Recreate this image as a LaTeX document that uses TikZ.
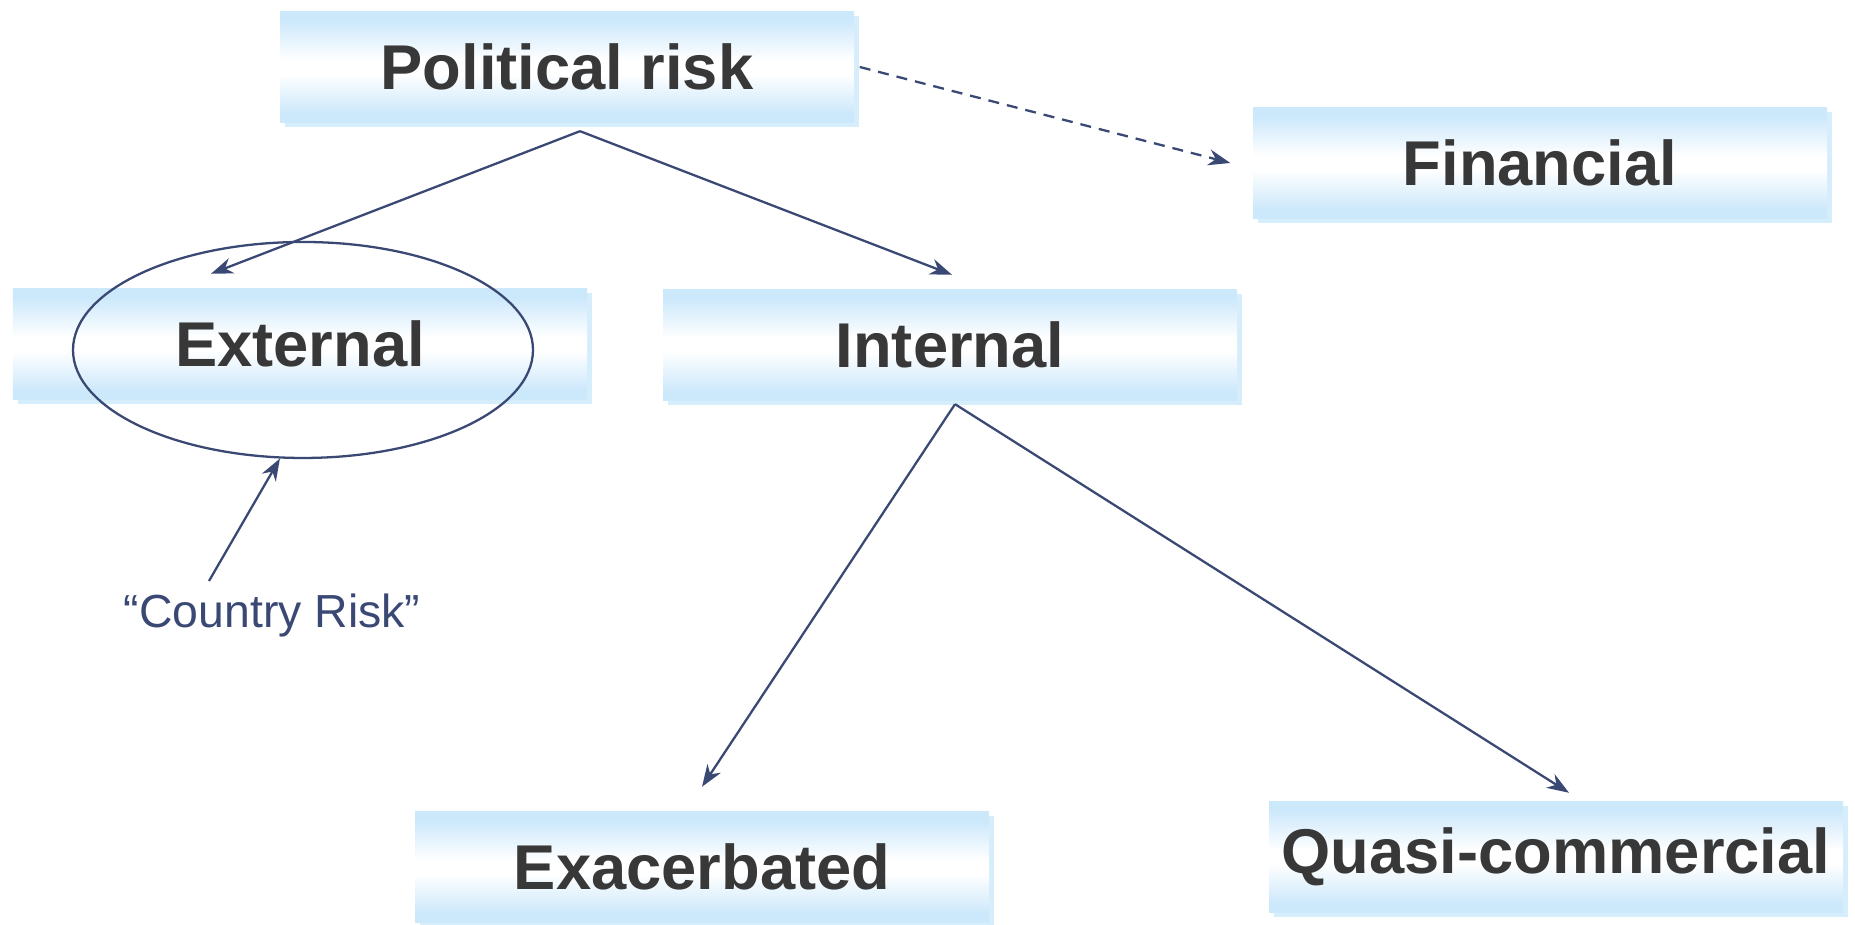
\documentclass[tikz,border=0pt]{standalone}
\usepackage{fontspec}
\setmainfont{Liberation Sans}
\usetikzlibrary{arrows.meta,shapes.geometric,shadows}
\definecolor{boxblue}{HTML}{CCE8FB}
\definecolor{shadeblue}{HTML}{D6EDFB}
\definecolor{inkgray}{HTML}{383838}
\definecolor{linkblue}{HTML}{3A4874}
\pgfdeclareverticalshading{boxshade}{100bp}{color(0bp)=(boxblue); color(29bp)=(boxblue);
    color(47bp)=(white); color(53bp)=(white); color(71bp)=(boxblue); color(100bp)=(boxblue)}
\tikzset{
    link/.style={draw=linkblue, line width=0.65pt, -{Stealth[length=2.2mm, width=1.6mm, inset=0.7mm]}},
}
\begin{document}
\begin{tikzpicture}
                \useasboundingbox (0,0) rectangle (18.55,9.25);
                \begin{scope}[
                        every node/.style={rectangle, minimum width=5.74cm, minimum height=1.11cm,
                            shading=boxshade,
                            drop shadow={shadow xshift=0.05cm, shadow yshift=-0.05cm, fill=shadeblue, opacity=1},
                            text=inkgray, font=\bfseries\fontsize{18}{21}\selectfont}
                    ]

                    \node (pr) at (5.67,8.58) {Political risk};
                    \node (fin) at (15.40,7.62) {Financial};
                    \node (ext) at (3.00,5.81) {External};
                    \node (int) at (9.50,5.80) {Internal};
                    \node (exa) at (7.02,0.58) {Exacerbated};
                    \node (qc) at (15.56,0.68) {Quasi-commercial};
                \end{scope}

                \node[draw=linkblue, line width=0.65pt, ellipse, minimum width=4.6cm, minimum height=2.16cm] (ring) at (3.03,5.75) {};
                \node[text=linkblue, font=\fontsize{13.2}{15}\selectfont] (cr) at (2.72,3.09) {“Country Risk”};

                \draw[link] ([xshift=0.13cm,yshift=-0.08cm]pr.south) -- ([xshift=-0.89cm,yshift=0.14cm]ext.north);
                \draw[link] ([xshift=0.13cm,yshift=-0.08cm]pr.south) -- ([xshift=0.02cm,yshift=0.14cm]int.north);
                \draw[link, dash pattern=on 1.1mm off 0.8mm] ([xshift=0.05cm]pr.east) -- ([xshift=-0.22cm]fin.west);

                \draw[link] ([xshift=0.05cm,yshift=-0.03cm]int.south) -- ([yshift=0.24cm]exa.north);
                \draw[link] ([xshift=0.05cm,yshift=-0.03cm]int.south) -- ([xshift=0.13cm,yshift=0.08cm]qc.north);

                \draw[link] ([xshift=-0.63cm,yshift=0.35cm]cr.center) -- (ring.258);
            \end{tikzpicture}
\end{document}
